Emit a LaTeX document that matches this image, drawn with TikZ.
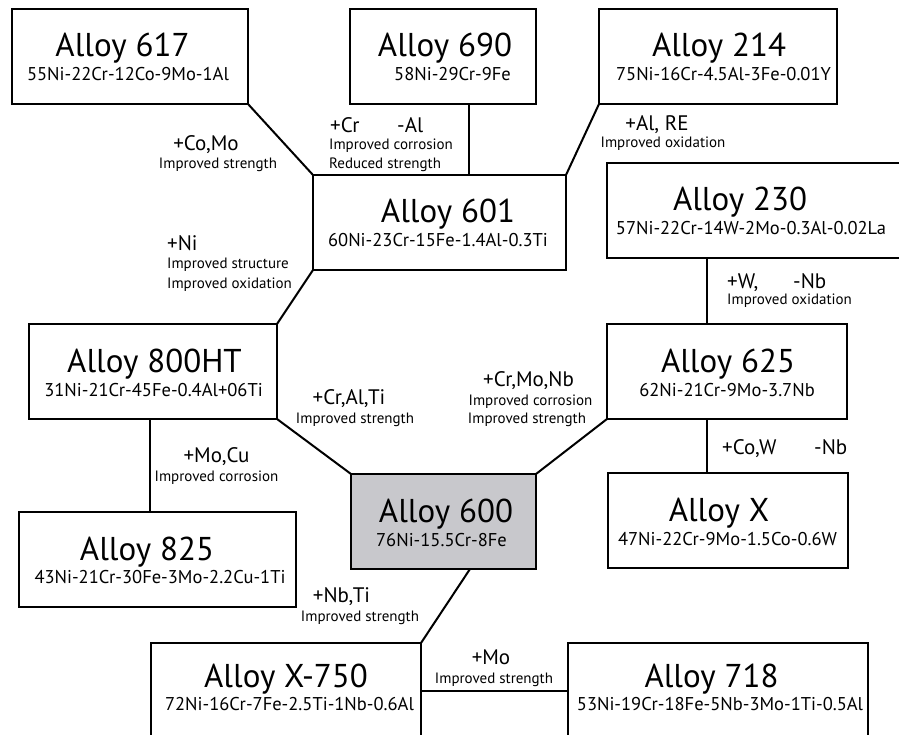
\documentclass[tikz,border=0pt]{standalone}
\usepackage{fontspec}
\setmainfont{PT Sans}
\definecolor{basegray}{RGB}{200,200,204}
\tikzset{
 box/.style={draw, line width=2pt, inner sep=0pt, outer sep=0pt},
 conn/.style={line width=2pt},
 ttl/.style={font=\fontsize{33}{33}\selectfont, anchor=base, inner sep=0pt},
 fml/.style={font=\fontsize{18.5}{18.5}\selectfont, anchor=base, inner sep=0pt},
 lbl/.style={font=\fontsize{21}{21}\selectfont, anchor=base, inner sep=0pt},
 sml/.style={font=\fontsize{15}{15}\selectfont, anchor=base, inner sep=0pt},
 lbll/.style={lbl, anchor=base west},
 smll/.style={sml, anchor=base west},
}
\begin{document}
\begin{tikzpicture}[x=1pt,y=-1pt]
\useasboundingbox (0,0) rectangle (899,735);
\clip (0,0) rectangle (899,735);
% boxes
\node[box, minimum width=236pt, minimum height=95pt] (a617) at (130,56.5) {};
\node[box, minimum width=186pt, minimum height=95pt] (a690) at (443,56.5) {};
\node[box, minimum width=238pt, minimum height=95pt] (a214) at (718,56.5) {};
\node[box, minimum width=253pt, minimum height=95pt] (a601) at (439.5,222.5) {};
\node[box, minimum width=295pt, minimum height=95pt] (a230) at (754.5,210.5) {};
\node[box, minimum width=248pt, minimum height=95pt] (a800) at (153,371.5) {};
\node[box, minimum width=240pt, minimum height=95pt] (a625) at (727,371.5) {};
\node[box, minimum width=277pt, minimum height=95pt] (a825) at (157.5,559.5) {};
\node[box, fill=basegray, minimum width=185pt, minimum height=95pt] (a600) at (443.5,521.5) {};
\node[box, minimum width=240pt, minimum height=95pt] (ax) at (728,520.5) {};
\node[box, minimum width=270pt, minimum height=95pt] (ax750) at (286,690.5) {};
\node[box, minimum width=300pt, minimum height=95pt] (a718) at (718,690.5) {};
% titles and formulas
\node[ttl] (t617) at (122.5,57) {Alloy 617};
\node[fml] (f617) at (128,81) {55Ni-22Cr-12Co-9Mo-1Al};
\node[ttl] (t690) at (445,57) {Alloy 690};
\node[fml] (f690) at (452.5,81) {58Ni-29Cr-9Fe};
\node[ttl] (t214) at (719,57) {Alloy 214};
\node[fml] (f214) at (723.5,81) {75Ni-16Cr-4.5Al-3Fe-0.01Y};
\node[ttl] (t601) at (448,223) {Alloy 601};
\node[fml] (f601) at (438,247) {60Ni-23Cr-15Fe-1.4Al-0.3Ti};
\node[ttl] (t230) at (740,211) {Alloy 230};
\node[fml] (f230) at (751,235) {57Ni-22Cr-14W-2Mo-0.3Al-0.02La};
\node[ttl] (t800) at (154.5,372) {Alloy 800HT};
\node[fml] (f800) at (153.5,396) {31Ni-21Cr-45Fe-0.4Al+06Ti};
\node[ttl] (t625) at (728,372) {Alloy 625};
\node[fml] (f625) at (727,396) {62Ni-21Cr-9Mo-3.7Nb};
\node[ttl] (t825) at (147,560) {Alloy 825};
\node[fml] (f825) at (160,583) {43Ni-21Cr-30Fe-3Mo-2.2Cu-1Ti};
\node[ttl] (t600) at (446,522) {Alloy 600};
\node[fml] (f600) at (441.5,546) {76Ni-15.5Cr-8Fe};
\node[ttl] (tx) at (719,521) {Alloy X};
\node[fml] (fx) at (727.5,545) {47Ni-22Cr-9Mo-1.5Co-0.6W};
\node[ttl] (tx750) at (286,687) {Alloy X-750};
\node[fml] (fx750) at (289.5,710) {72Ni-16Cr-7Fe-2.5Ti-1Nb-0.6Al};
\node[ttl] (t718) at (711.5,687) {Alloy 718};
\node[fml] (f718) at (720,710) {53Ni-19Cr-18Fe-5Nb-3Mo-1Ti-0.5Al};
% connectors
\path (a690.south west) ++(119,0) coordinate (c690);
\path (a230.south west) ++(100,0) coordinate (c230);
\path (a800.south west) ++(121,0) coordinate (c800);
\path (a625.south west) ++(100,0) coordinate (c625);
\path (a600.south west) ++(119,0) coordinate (c600);
\draw[conn] (a617.south east) -- (a601.north west);
\draw[conn] (c690) -- (c690 |- a601.north);
\draw[conn] (a214.south west) -- (a601.north east);
\draw[conn] (a601.south west) -- (a800.north east);
\draw[conn] (c230) -- (c230 |- a625.north);
\draw[conn] (a800.south east) -- (a600.north west);
\draw[conn] (a625.south west) -- (a600.north east);
\draw[conn] (c800) -- (c800 |- a825.north);
\draw[conn] (c625) -- (c625 |- ax.north);
\draw[conn] (c600) -- (ax750.north east);
\draw[conn] (ax750.east) -- (a718.west);
% labels
\node[lbl] (l1a) at (206,151) {+Co,Mo};
\node[sml] (l1b) at (218,169) {Improved strength};
\node[lbll] (l2a) at (330,133) {+Cr};
\node[lbll] (l2b) at (397,133) {-Al};
\node[smll] (l2c) at (329,150) {Improved corrosion};
\node[smll] (l2d) at (329,169) {Reduced strength};
\node[lbl] (l3a) at (657,131) {+Al, RE};
\node[sml] (l3b) at (663,148) {Improved oxidation};
\node[lbll] (l4a) at (167,251) {+Ni};
\node[smll] (l4b) at (167,269) {Improved structure};
\node[smll] (l4c) at (167,288) {Improved oxidation};
\node[lbl] (l5a) at (349,404) {+Cr,Al,Ti};
\node[sml] (l5b) at (355,423) {Improved strength};
\node[lbl] (l6a) at (528.5,386) {+Cr,Mo,Nb};
\node[sml] (l6b) at (530.5,405) {Improved corrosion};
\node[sml] (l6c) at (527,423) {Improved strength};
\node[lbll] (l7a) at (727,288) {+W,};
\node[lbll] (l7b) at (793,288) {-Nb};
\node[smll] (l7c) at (727,305) {Improved oxidation};
\node[lbl] (l8a) at (216.5,462) {+Mo,Cu};
\node[sml] (l8b) at (216.5,481) {Improved corrosion};
\node[lbll] (l9a) at (722,454) {+Co,W};
\node[lbll] (l9b) at (814,454) {-Nb};
\node[lbl] (l10a) at (341.5,602) {+Nb,Ti};
\node[sml] (l10b) at (360,621) {Improved strength};
\node[lbl] (l11a) at (491,664) {+Mo};
\node[sml] (l11b) at (494,683) {Improved strength};
\end{tikzpicture}
\end{document}
